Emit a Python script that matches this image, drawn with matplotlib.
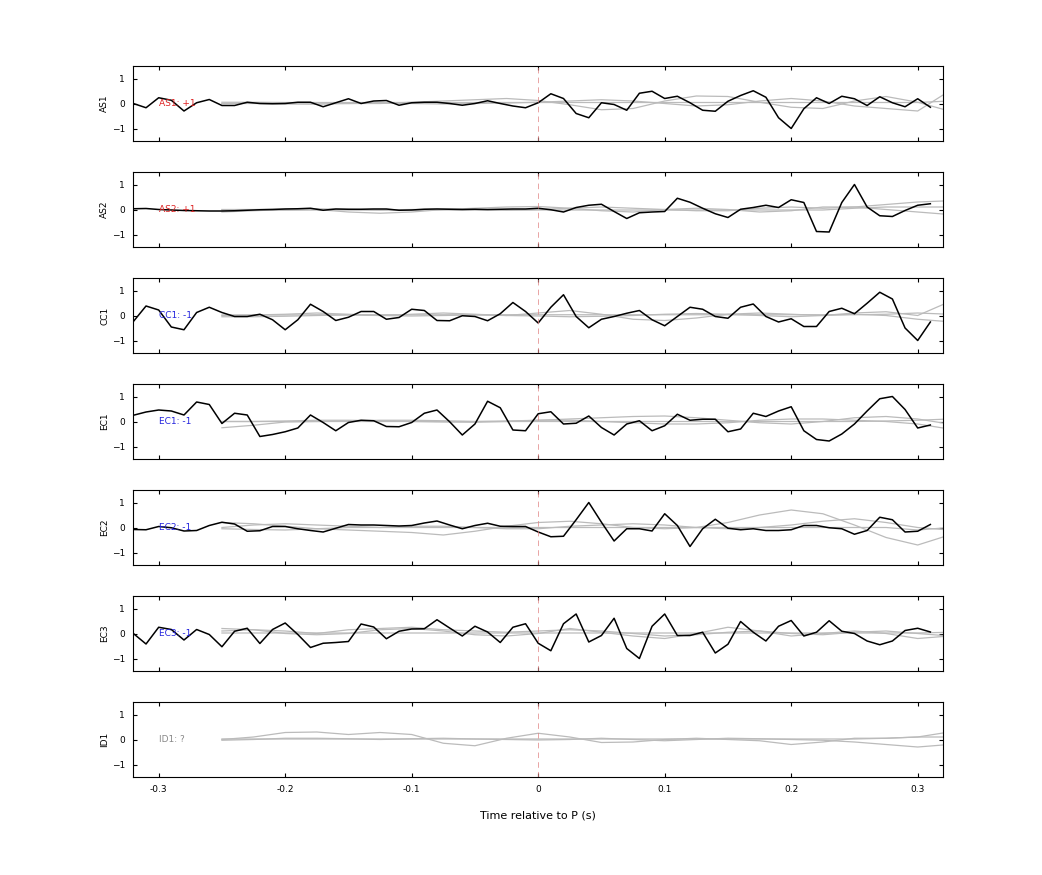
import numpy as np
import matplotlib.pyplot as plt

# Channel names, polarity labels and label colours
channels = ['AS1', 'AS2', 'CC1', 'EC1', 'EC2', 'EC3', 'ID1']
labels = ['AS1: +1', 'AS2: +1', 'CC1: -1', 'EC1: -1', 'EC2: -1', 'EC3: -1', 'ID1: ?']
label_colors = ['#dd2222', '#dd2222', '#2222dd', '#2222dd', '#2222dd', '#2222dd', '#888888']

# Black trace time axis: -0.32 .. 0.31 s, 10 ms steps
t_black = np.round(np.arange(-0.32, 0.315, 0.01), 2)

as1 = [0, -0.17, 0.23, 0.13, -0.3, 0.03, 0.16, -0.08, -0.08, 0.05, 0, -0.01, 0, 0.05, 0.05, -0.13,
       0.03, 0.19, 0, 0.1, 0.12, -0.07, 0.03, 0.05, 0.05, 0, -0.07, 0, 0.11, 0, -0.1, -0.17,
       0.03, 0.39, 0.2, -0.4, -0.57, 0.03, -0.04, -0.27, 0.41, 0.49, 0.2, 0.29, 0.03, -0.27,
       -0.31, 0.09, 0.32, 0.51, 0.25, -0.57, -1.0, -0.21, 0.23, 0, 0.29, 0.19, -0.08, 0.27,
       0.03, -0.13, 0.19, -0.15]
as2 = [0.03, 0.04, 0, -0.02, -0.04, -0.05, -0.06, -0.06, -0.05, -0.03, -0.01, 0, 0.02, 0.03,
       0.05, -0.03, 0.02, 0.01, 0.01, 0.02, 0.02, -0.03, -0.02, 0.01, 0.02, 0.01, 0, 0.01, 0,
       0.01, 0.02, 0.02, 0.05, -0.01, -0.1, 0.08, 0.17, 0.21, -0.08, -0.36, -0.13, -0.1, -0.08,
       0.45, 0.29, 0.05, -0.17, -0.32, 0.01, 0.08, 0.17, 0.08, 0.39, 0.28, -0.88, -0.9, 0.28,
       1.0, 0.1, -0.25, -0.28, -0.04, 0.17, 0.23]
cc1 = [-0.24, 0.38, 0.22, -0.46, -0.57, 0.12, 0.33, 0.12, -0.04, -0.04, 0.05, -0.17, -0.57,
       -0.17, 0.45, 0.16, -0.2, -0.07, 0.16, 0.16, -0.15, -0.08, 0.25, 0.2, -0.2, -0.21, -0.01,
       -0.04, -0.21, 0.07, 0.52, 0.16, -0.3, 0.33, 0.83, -0.04, -0.49, -0.15, -0.04, 0.09, 0.2,
       -0.17, -0.41, -0.04, 0.33, 0.25, -0.04, -0.11, 0.33, 0.46, -0.04, -0.26, -0.13, -0.44,
       -0.44, 0.16, 0.29, 0.07, 0.49, 0.93, 0.66, -0.5, -1.0, -0.26]
ec1 = [0.25, 0.38, 0.46, 0.42, 0.26, 0.78, 0.68, -0.08, 0.33, 0.26, -0.6, -0.52, -0.41, -0.26,
       0.26, -0.04, -0.37, -0.04, 0.05, 0.03, -0.2, -0.21, -0.04, 0.33, 0.46, -0.01, -0.54,
       -0.1, 0.81, 0.55, -0.34, -0.37, 0.31, 0.39, -0.1, -0.07, 0.22, -0.24, -0.54, -0.1, 0.03,
       -0.37, -0.17, 0.29, 0.05, 0.09, 0.09, -0.41, -0.3, 0.33, 0.2, 0.42, 0.59, -0.37, -0.72,
       -0.78, -0.5, -0.1, 0.42, 0.91, 1.0, 0.48, -0.26, -0.14]
ec2 = [-0.08, -0.09, 0.04, -0.01, -0.14, -0.12, 0.08, 0.21, 0.14, -0.15, -0.13, 0.04, 0.04,
       -0.05, -0.12, -0.18, -0.03, 0.12, 0.1, 0.1, 0.08, 0.06, 0.08, 0.18, 0.26, 0.1, -0.05,
       0.08, 0.17, 0.05, 0.04, 0.04, -0.18, -0.37, -0.35, 0.31, 1.0, 0.21, -0.54, -0.05, -0.05,
       -0.14, 0.55, 0.08, -0.76, -0.05, 0.33, -0.03, -0.09, -0.05, -0.12, -0.12, -0.09, 0.08,
       0.08, -0.01, -0.05, -0.27, -0.12, 0.41, 0.31, -0.18, -0.15, 0.12]
ec3 = [0, -0.42, 0.25, 0.16, -0.26, 0.16, -0.04, -0.53, 0.09, 0.21, -0.4, 0.16, 0.42, -0.04,
       -0.56, -0.39, -0.36, -0.32, 0.38, 0.26, -0.21, 0.09, 0.18, 0.19, 0.55, 0.22, -0.1, 0.29,
       0.06, -0.36, 0.25, 0.39, -0.39, -0.69, 0.39, 0.78, -0.34, -0.08, 0.61, -0.6, -1.0, 0.29,
       0.78, -0.08, -0.08, 0.05, -0.78, -0.43, 0.48, 0.05, -0.3, 0.29, 0.52, -0.1, 0.05, 0.51,
       0.09, 0, -0.3, -0.45, -0.3, 0.12, 0.21, 0.06]
black_traces = [as1, as2, cc1, ec1, ec2, ec3, None]

# Grey traces: sampled every 25 ms from -0.25 to 0.325 s
t_grey = np.round(np.arange(-0.25, 0.33, 0.025), 3)
grey_traces = [
    [[0, 0.02, 0.03, 0.02, 0, 0, 0.05, 0.1, 0.15, 0.2, 0.12, -0.05, -0.25, -0.2, 0.1, 0.3, 0.28, 0.05, -0.15, -0.2, 0.1, 0.28, 0.05, -0.3],
     [0, 0, -0.02, -0.03, 0, 0.02, 0, -0.02, 0, 0.02, 0.05, 0.1, 0.15, 0.1, 0, -0.1, -0.05, 0.1, 0.2, 0.1, -0.1, -0.2, -0.3, 0.5],
     [0.05, 0.05, 0.04, 0.04, 0.04, 0.04, 0.04, 0.04, 0.04, 0.04, 0.04, 0.04, 0.04, 0.04, 0.04, 0.04, 0.04, 0.04, 0.04, 0.04, 0.04, 0.04, 0.04, 0.1]],
    [[-0.1, -0.05, 0, 0, -0.1, -0.15, -0.1, 0, 0.05, 0.1, 0.12, 0.05, -0.05, -0.1, 0, 0.05, 0, -0.1, -0.05, 0.1, 0.1, 0, -0.1, -0.2],
     [0, 0, 0.02, 0.03, 0, -0.02, 0, 0.02, 0, -0.03, 0, 0.05, 0.1, 0.05, 0, -0.05, -0.05, 0.05, 0.1, 0.05, 0.1, 0.2, 0.3, 0.35],
     [-0.02, -0.03, -0.03, -0.02, -0.02, -0.02, -0.02, -0.02, -0.02, -0.02, -0.02, -0.02, -0.02, -0.02, -0.02, -0.02, -0.02, -0.02, -0.02, -0.02, 0.05, 0.1, 0.1, 0.1]],
    [[0, 0.02, 0.05, 0.1, 0.05, 0, 0.05, 0.1, 0.05, 0, 0.1, 0.2, 0.05, -0.15, -0.2, -0.1, 0.05, 0.1, 0.05, 0, 0.1, 0.15, 0, 0.55],
     [-0.05, -0.05, -0.03, 0, 0.02, 0, -0.02, 0, 0.02, 0, -0.02, -0.05, -0.03, 0, 0.05, 0.08, 0.05, 0, -0.05, 0, 0.05, 0, -0.15, -0.25],
     [0.02, 0.02, 0.02, 0.03, 0.03, 0.03, 0.03, 0.03, 0.03, 0.03, 0.03, 0.03, 0.03, 0.03, 0.03, 0.03, 0.03, 0.03, 0.03, 0.03, 0.03, 0.05, 0.1, 0.05]],
    [[-0.25, -0.15, -0.02, 0, 0.02, 0.05, 0.05, 0.03, 0, 0.02, 0.05, 0.1, 0.15, 0.2, 0.22, 0.15, 0.05, -0.05, -0.1, 0, 0.15, 0.2, 0.1, -0.1],
     [0, 0, 0.02, 0.05, 0.05, 0.03, 0, -0.02, -0.03, 0, 0.05, 0.05, 0, -0.05, -0.1, -0.1, -0.05, 0.05, 0.1, 0.1, 0.05, 0, -0.1, -0.3],
     [0, 0, 0, 0, 0, 0, 0, 0, 0, 0, 0, 0, 0, 0, 0, 0, 0, 0, 0, 0, 0, 0.02, 0.05, 0.1]],
    [[0.2, 0.15, 0.05, -0.05, -0.1, -0.15, -0.2, -0.3, -0.15, 0.05, 0.2, 0.25, 0.15, 0, -0.05, 0, 0.2, 0.5, 0.7, 0.55, 0.1, -0.4, -0.7, -0.3],
     [0, 0.1, 0.15, 0.1, 0.05, 0, 0.05, 0.05, 0, -0.05, -0.05, 0.05, 0.1, 0.15, 0.1, 0, -0.05, 0, 0.1, 0.25, 0.35, 0.2, 0, -0.1],
     [-0.05, -0.08, -0.1, -0.05, 0, 0, 0, 0, 0, 0, 0, 0, 0, 0, 0, 0, 0, 0, 0, 0, 0, 0, -0.1, 0]],
    [[0.2, 0.15, 0, -0.05, 0, 0.15, 0.2, 0.1, -0.05, -0.1, 0, 0.2, 0.05, -0.1, -0.2, 0, 0.25, 0.1, -0.1, 0, 0.1, 0, -0.2, -0.1],
     [0.1, 0.15, 0.1, 0, 0.15, 0.2, 0.25, 0.15, 0.1, 0.05, 0.1, 0.15, 0.1, 0, -0.1, -0.05, 0.05, 0.1, 0, -0.05, 0.05, 0.1, 0, -0.1],
     [0.02, 0.02, 0.02, 0.02, 0.02, 0.02, 0.02, 0.02, 0.02, 0.02, 0.02, 0.02, 0.02, 0.02, 0.02, 0.02, 0.02, 0.02, 0.02, 0.02, 0.02, 0.02, 0.02, 0.05]],
    [[0, 0.1, 0.28, 0.3, 0.2, 0.28, 0.2, -0.15, -0.25, 0.05, 0.25, 0.1, -0.12, -0.1, 0, 0.05, 0, -0.05, -0.2, -0.1, 0.05, 0.05, 0.1, 0.3],
     [-0.03, 0, 0.05, 0.05, 0.03, 0, 0.03, 0.05, 0.02, 0, -0.02, 0, 0.05, 0, -0.05, 0, 0.05, 0.03, 0, -0.03, -0.1, -0.2, -0.3, -0.2],
     [0.02, 0.02, 0.02, 0.02, 0.02, 0.02, 0.02, 0.02, 0.02, 0.02, 0.02, 0.02, 0.02, 0.02, 0.02, 0.02, 0.02, 0.02, 0.02, 0.02, 0.02, 0.05, 0.1, 0.1]],
]

fig = plt.figure(figsize=(10.42, 8.75), dpi=100)
left, width = 0.128, 0.777
tops = [66, 172, 278, 384, 490, 596, 702]
height_px = 75

for k, ch in enumerate(channels):
    ax = fig.add_axes([left, 1 - (tops[k] + height_px) / 875, width, height_px / 875])
    for g in grey_traces[k]:
        ax.plot(t_grey, g, color='#bbbbbb', lw=0.9)
    if black_traces[k] is not None:
        ax.plot(t_black, black_traces[k], color='black', lw=1.1)
    ax.axvline(0, color='#e08080', lw=0.5, ls=(0, (8, 6)))
    ax.text(-0.3, 0, labels[k], color=label_colors[k], fontsize=6.5, va='center', ha='left')
    ax.set_xlim(-0.32, 0.32)
    ax.set_ylim(-1.5, 1.5)
    ax.set_yticks([-1, 0, 1])
    ax.set_xticks([-0.3, -0.2, -0.1, 0, 0.1, 0.2, 0.3])
    ax.tick_params(direction='in', top=True, right=True, labelsize=6.5, length=3, pad=6)
    ax.set_ylabel(ch, fontsize=6.5, labelpad=2)
    if k < len(channels) - 1:
        ax.set_xticklabels([])
    else:
        ax.set_xticklabels(['-0.3', '-0.2', '-0.1', '0', '0.1', '0.2', '0.3'])
        ax.set_xlabel('Time relative to P (s)', fontsize=8, labelpad=12)

fig.savefig('out.png', dpi=100)
